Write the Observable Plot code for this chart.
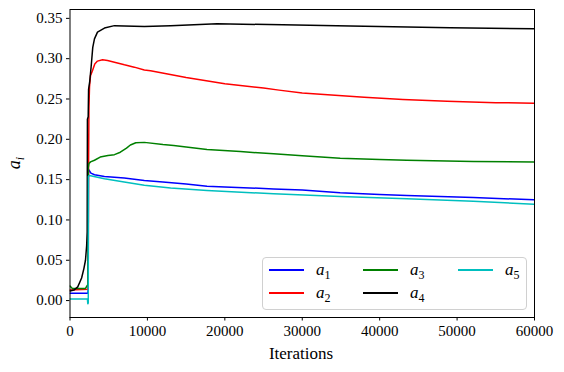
<!DOCTYPE html>
<html>
<head>
<meta charset="utf-8">
<script src="https://cdn.jsdelivr.net/npm/d3@7"></script>
<script src="https://cdn.jsdelivr.net/npm/@observablehq/plot@0.6"></script>
<style>
  html, body { margin: 0; padding: 0; background: white; }
  #wrap { position: relative; width: 564px; height: 372px; font-family: "Liberation Serif", "Liberation Sans", sans-serif; }
  #legend {
    position: absolute; left: 262px; top: 257px;
    border: 1px solid #d0d0d0; border-radius: 4px; background: rgba(255,255,255,0.8);
    display: grid; grid-template-rows: 23px 23px; grid-auto-flow: column;
    grid-template-columns: 94px 95px 70px; padding: 0 0 0 6px; box-sizing: border-box;
    height: 53px; width: 265px;
  }
  .item { display: flex; align-items: center; color: black; }
  .swatch { width: 35px; height: 0; border-top: 2px solid; margin-right: 12px; }
  .lab { font-family: "Liberation Serif", "Liberation Sans", sans-serif; font-size: 17px; line-height: 17px; }
  .lab i { font-style: italic; }
  .lab sub { font-size: 12px; vertical-align: -4px; line-height: 0; }
</style>
</head>
<body>
<div id="wrap"></div>
<script>
const seriesNames = ["a1", "a2", "a3", "a4", "a5"];
const seriesSubs = ["1", "2", "3", "4", "5"];
const seriesColors = ["#0000ff", "#ff0000", "#008000", "#000000", "#00bfbf"];

const a1Iter = [0, 2300, 2340, 2380, 2500, 2700, 3160, 4450, 7000, 9600, 12000, 15000, 17700, 20000, 26300, 30000, 34900, 40000, 43500, 52100, 60000];
const a1Val  = [0.009, 0.009, 0.012, 0.163, 0.161, 0.158, 0.156, 0.154, 0.152, 0.149, 0.147, 0.1445, 0.1418, 0.141, 0.1385, 0.137, 0.1336, 0.1315, 0.1303, 0.1278, 0.125];

const a2Iter = [0, 2350, 2400, 2450, 2520, 2650, 2900, 3200, 3550, 4200, 4850, 5740, 7030, 8300, 9600, 10400, 15000, 20000, 25000, 27000, 30000, 38000, 43000, 48700, 55000, 60000];
const a2Val  = [0.013, 0.014, 0.17, 0.24, 0.265, 0.279, 0.285, 0.2935, 0.297, 0.2986, 0.2978, 0.2957, 0.2924, 0.2895, 0.286, 0.285, 0.2767, 0.269, 0.2635, 0.261, 0.2575, 0.2522, 0.2495, 0.2473, 0.2455, 0.2448];

const a3Iter = [0, 300, 2000, 2250, 2320, 2360, 2450, 2650, 3160, 3900, 4900, 5740, 6500, 7300, 7800, 8500, 9600, 12000, 13400, 15000, 17700, 22000, 26300, 30000, 34900, 40000, 43500, 52100, 60000];
const a3Val  = [0.018, 0.015, 0.015, 0.019, 0.019, 0.165, 0.170, 0.172, 0.174, 0.178, 0.180, 0.181, 0.184, 0.189, 0.193, 0.1958, 0.1962, 0.1935, 0.1923, 0.1905, 0.1873, 0.1848, 0.182, 0.1795, 0.1766, 0.175, 0.174, 0.1725, 0.172];

const a4Iter = [0, 500, 1000, 1500, 1800, 2000, 2150, 2220, 2250, 2350, 2400, 2550, 2730, 2940, 3160, 3550, 4450, 5740, 7000, 9600, 13000, 19000, 27500, 36200, 49100, 60000];
const a4Val  = [0.012, 0.013, 0.017, 0.028, 0.04, 0.05, 0.068, 0.085, 0.225, 0.228, 0.262, 0.272, 0.29, 0.314, 0.3246, 0.333, 0.338, 0.341, 0.3405, 0.340, 0.341, 0.3433, 0.342, 0.3405, 0.3385, 0.337];

const a5Iter = [0, 2250, 2300, 2360, 2380, 2500, 4450, 7000, 9600, 13000, 17700, 26300, 34900, 43500, 52100, 60000];
const a5Val  = [0.002, 0.002, -0.004, -0.003, 0.154, 0.155, 0.151, 0.147, 0.143, 0.1395, 0.1365, 0.1324, 0.129, 0.1262, 0.1232, 0.1195];

const xTicks = [0, 10000, 20000, 30000, 40000, 50000, 60000];
const yTicks = [0.00, 0.05, 0.10, 0.15, 0.20, 0.25, 0.30, 0.35];

const iters = [a1Iter, a2Iter, a3Iter, a4Iter, a5Iter];
const vals = [a1Val, a2Val, a3Val, a4Val, a5Val];
const data = [];
seriesNames.forEach((s, k) => iters[k].forEach((it, i) => data.push({series: s, it, v: vals[k][i]})));

const svg = Plot.plot({
  width: 564, height: 372,
  marginLeft: 69.5, marginRight: 30, marginTop: 9, marginBottom: 55,
  style: {background: "white", color: "black"},
  x: {domain: [0, 60000], ticks: xTicks, tickFormat: d => String(d), tickSize: 3.5, tickPadding: 4, label: null},
  y: {domain: [-0.021, 0.361], ticks: yTicks, tickFormat: d => d.toFixed(2), tickSize: 3.5, tickPadding: 4, label: null},
  color: {domain: seriesNames, range: seriesColors},
  marks: [
    Plot.line(data, {x: "it", y: "v", z: "series", stroke: "series", strokeWidth: 1.5, clip: true}),
    Plot.frame({stroke: "black", strokeWidth: 1})
  ]
});
const fam = "'Liberation Serif', 'Liberation Sans', sans-serif";
svg.setAttribute("font-family", fam);
svg.setAttribute("font-size", "15");
svg.style.fontFamily = fam;
svg.style.fontSize = "15px";

const s = d3.select(svg);
s.selectAll("g").each(function () {
  if (this.hasAttribute("font-size")) this.setAttribute("font-size", "15");
  if (this.hasAttribute("font-family")) this.setAttribute("font-family", fam);
});
s.selectAll("text").style("font-family", fam).style("font-size", "15px");

const yl = s.append("text")
  .attr("transform", "translate(20,163) rotate(-90)")
  .attr("text-anchor", "middle")
  .attr("font-size", 18)
  .attr("fill", "black");
yl.append("tspan").attr("font-style", "italic").text("a");
yl.append("tspan").attr("font-size", 12).attr("dy", 4).attr("font-style", "italic").text("i");

s.append("text")
  .attr("x", 301).attr("y", 359)
  .attr("text-anchor", "middle")
  .attr("font-size", 17)
  .attr("fill", "black")
  .text("Iterations");

const wrap = document.getElementById("wrap");
wrap.appendChild(svg);

const legend = document.createElement("div");
legend.id = "legend";
seriesNames.forEach((n, k) => {
  const item = document.createElement("div");
  item.className = "item";
  item.innerHTML = `<span class="swatch" style="border-color:${seriesColors[k]}"></span><span class="lab"><i>a</i><sub>${seriesSubs[k]}</sub></span>`;
  legend.appendChild(item);
});
wrap.appendChild(legend);
</script>
</body>
</html>
